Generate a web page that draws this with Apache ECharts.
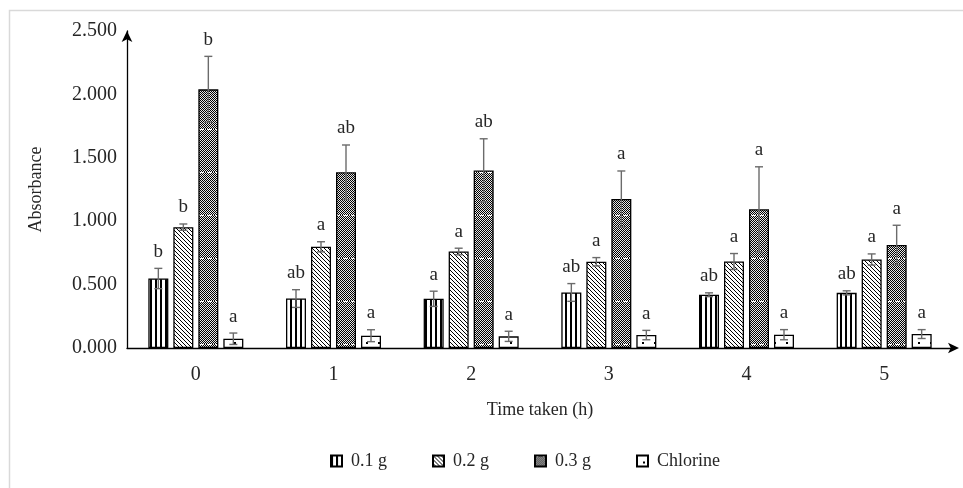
<!DOCTYPE html>
<html>
<head>
<meta charset="utf-8">
<script src="https://cdn.jsdelivr.net/npm/echarts@6/dist/echarts.min.js"></script>
<style>
html,body{margin:0;padding:0;background:#fff;}
#c{width:963px;height:488px;}
</style>
</head>
<body>
<div id="c"></div>
<script>
var categories = ['0', '1', '2', '3', '4', '5'];
var seriesNames = ['0.1 g', '0.2 g', '0.3 g', 'Chlorine'];
var mean01 = [0.548, 0.390, 0.388, 0.438, 0.420, 0.435];
var sd01   = [0.080, 0.070, 0.060, 0.070, 0.015, 0.016];
var mean02 = [0.953, 0.798, 0.761, 0.680, 0.682, 0.698];
var sd02   = [0.025, 0.040, 0.026, 0.033, 0.063, 0.044];
var mean03 = [2.040, 1.386, 1.400, 1.176, 1.094, 0.813];
var sd03   = [0.260, 0.215, 0.250, 0.220, 0.335, 0.155];
var meanCl = [0.073, 0.097, 0.092, 0.102, 0.105, 0.110];
var sdCl   = [0.045, 0.047, 0.040, 0.037, 0.040, 0.035];
var letters01 = ['b', 'ab', 'a', 'ab', 'ab', 'ab'];
var letters02 = ['b', 'a', 'a', 'a', 'a', 'a'];
var letters03 = ['b', 'ab', 'ab', 'a', 'a', 'a'];
var lettersCl = ['a', 'a', 'a', 'a', 'a', 'a'];
var yTicks = [0, 0.5, 1.0, 1.5, 2.0, 2.5];

var means = [mean01, mean02, mean03, meanCl];
var sds = [sd01, sd02, sd03, sdCl];
var letters = [letters01, letters02, letters03, lettersCl];

function makePattern(w, h, draw) {
  var c = document.createElement('canvas');
  c.width = w; c.height = h;
  var ctx = c.getContext('2d');
  ctx.fillStyle = '#fff';
  ctx.fillRect(0, 0, w, h);
  draw(ctx);
  return { image: c, repeat: 'repeat' };
}
var patStripes = makePattern(5, 10, function (ctx) {
  ctx.fillStyle = '#000';
  ctx.fillRect(0, 0, 2, 10);
});
var patDiag = makePattern(4, 4, function (ctx) {
  ctx.fillStyle = '#000';
  for (var i = 0; i < 4; i++) ctx.fillRect(i, i, 1, 1);
});
var patDense = makePattern(8, 43, function (ctx) {
  ctx.fillStyle = '#e6e6e6';
  ctx.fillRect(0, 0, 8, 43);
  ctx.fillStyle = '#000';
  for (var y = 0; y < 43; y++) {
    for (var x = 0; x < 8; x++) {
      if ((x + y) % 2 === 0) ctx.fillRect(x, y, 1, 1);
    }
  }
  ctx.fillStyle = '#fff';
  ctx.fillRect(0, 0, 4, 1);
});
var patDots = makePattern(12, 12, function (ctx) {
  ctx.fillStyle = '#000';
  ctx.fillRect(6, 6, 2, 2);
});
var patterns = [patStripes, patDiag, patDense, patDots];

var FONT = 'Liberation Serif';
var TXT = '#262626';
var BAR_W = 20, BAR_GAP = 5;

var series = [];
seriesNames.forEach(function (name, s) {
  series.push({
    name: name,
    type: 'bar',
    barWidth: BAR_W,
    barGap: (BAR_GAP / BAR_W * 100) + '%',
    itemStyle: { color: patterns[s], borderColor: '#000', borderWidth: 1.3 },
    data: means[s]
  });
});
seriesNames.forEach(function (name, s) {
  var d = categories.map(function (c, i) { return [i, means[s][i], sds[s][i]]; });
  series.push({
    type: 'custom',
    name: name + '_err',
    z: 5,
    encode: { x: 0, y: 1 },
    data: d,
    renderItem: function (params, api) {
      var i = params.dataIndex;
      var cat = api.value(0), m = api.value(1), sd = api.value(2);
      var off = (s - 1.5) * (BAR_W + BAR_GAP);
      var x = api.coord([cat, m])[0] + off;
      var yTop = api.coord([cat, m + sd])[1];
      var yBot = api.coord([cat, m - sd])[1];
      var st = { stroke: '#6b6b6b', lineWidth: 1.4 };
      return {
        type: 'group',
        children: [
          { type: 'line', shape: { x1: x, y1: yTop, x2: x, y2: yBot }, style: st },
          { type: 'line', shape: { x1: x - 4, y1: yTop, x2: x + 4, y2: yTop }, style: st },
          { type: 'line', shape: { x1: x - 4, y1: yBot, x2: x + 4, y2: yBot }, style: st },
          { type: 'text', x: x, y: yTop - 7,
            style: { text: letters[s][i], fill: TXT, font: '19px "' + FONT + '"', textAlign: 'center', textVerticalAlign: 'bottom' } }
        ]
      };
    }
  });
});

var chart = echarts.init(document.getElementById('c'));
chart.setOption({
  animation: false,
  backgroundColor: '#fff',
  textStyle: { fontFamily: FONT, color: TXT },
  graphic: [{
    type: 'rect', silent: true,
    shape: { x: 9.5, y: 10.5, width: 1000, height: 1000 },
    style: { fill: 'none', stroke: '#d9d9d9', lineWidth: 1.5 }
  }],
  grid: { left: 127, right: 10, top: 31, bottom: 140 },
  legend: {
    data: seriesNames,
    left: 325, top: 447,
    itemWidth: 11, itemHeight: 11, itemGap: 45,
    icon: 'rect',
    textStyle: { fontFamily: FONT, fontSize: 18, color: TXT, padding: [0, 0, 0, 4] }
  },
  xAxis: {
    type: 'category',
    data: categories,
    name: 'Time taken (h)',
    nameLocation: 'middle',
    nameGap: 53,
    nameTextStyle: { fontFamily: FONT, fontSize: 18, color: TXT },
    axisLine: { lineStyle: { color: '#000', width: 1.3 }, symbol: ['none', 'arrow'], symbolSize: [8, 11], symbolOffset: [0, 6] },
    axisTick: { show: false },
    axisLabel: { fontFamily: FONT, fontSize: 20, color: TXT, margin: 17 }
  },
  yAxis: {
    type: 'value',
    min: 0, max: 2.5, interval: 0.5,
    name: 'Absorbance',
    nameLocation: 'middle',
    nameGap: 82,
    nameRotate: 90,
    nameTextStyle: { fontFamily: FONT, fontSize: 18, color: TXT },
    axisLine: { show: true, lineStyle: { color: '#000', width: 1.3 }, symbol: ['none', 'arrow'], symbolSize: [8, 11], symbolOffset: [0, 0] },
    axisTick: { show: false },
    splitLine: { show: false },
    axisLabel: { fontFamily: FONT, fontSize: 20, color: TXT, margin: 10,
      formatter: function (v) { return yTicks.indexOf(v) >= 0 ? v.toFixed(3) : ''; } }
  },
  series: series
});
</script>
</body>
</html>
